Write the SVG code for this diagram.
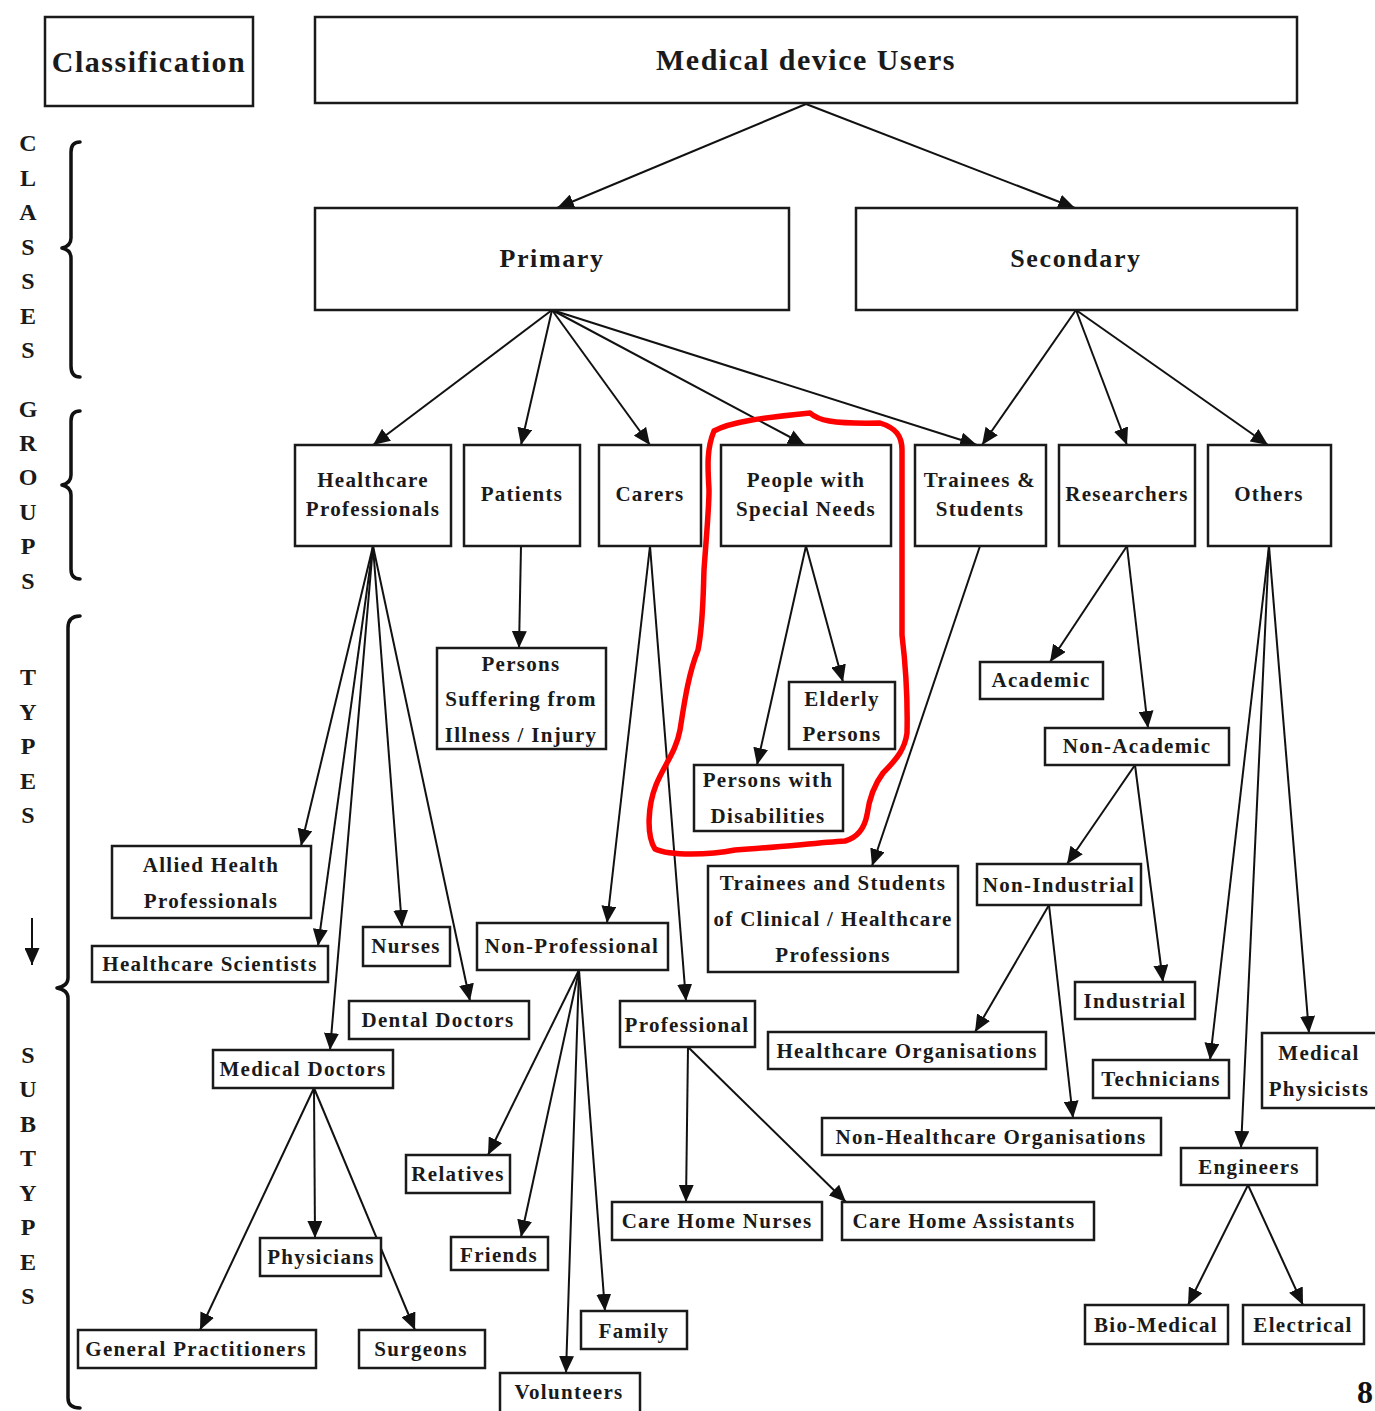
<svg xmlns="http://www.w3.org/2000/svg" width="1375" height="1411" viewBox="0 0 1375 1411">
  <style>
    .box { fill: #ffffff; stroke: #1a1a1a; stroke-width: 2.5; }
    .t { font-family: "Liberation Serif", "Times New Roman", serif; font-weight: bold; fill: #1a1a1a; text-anchor: middle; dominant-baseline: central; }
    .t1 { font-size: 30px; letter-spacing: 1.5px; }
    .t2 { font-size: 26px; letter-spacing: 1.6px; }
    .t3 { font-size: 21px; letter-spacing: 1.3px; }
    .side { font-family: "Liberation Serif", "Times New Roman", serif; font-weight: bold; font-size: 24px; fill: #1a1a1a; text-anchor: middle; dominant-baseline: central; }
    .edge { stroke: #111111; stroke-width: 2; fill: none; marker-end: url(#arrow); }
    .brace { stroke: #111111; stroke-width: 3.5; fill: none; stroke-linecap: round; stroke-linejoin: round; }
  </style>
  <defs>
    <marker id="arrow" markerUnits="userSpaceOnUse" markerWidth="17" markerHeight="15" refX="17" refY="7.5" orient="auto">
      <path d="M0,0 L17,7.5 L0,15 z" fill="#111111"/>
    </marker>
  </defs>
  <rect width="1375" height="1411" fill="#ffffff"/>

  <!-- side legend -->
  <g id="legend">
    <text class="side" x="28" y="143">C</text>
    <text class="side" x="28" y="178">L</text>
    <text class="side" x="28" y="212">A</text>
    <text class="side" x="28" y="247">S</text>
    <text class="side" x="28" y="281">S</text>
    <text class="side" x="28" y="316">E</text>
    <text class="side" x="28" y="350">S</text>
    <text class="side" x="28" y="409">G</text>
    <text class="side" x="28" y="443">R</text>
    <text class="side" x="28" y="477">O</text>
    <text class="side" x="28" y="512">U</text>
    <text class="side" x="28" y="546">P</text>
    <text class="side" x="28" y="581">S</text>
    <text class="side" x="28" y="677">T</text>
    <text class="side" x="28" y="712">Y</text>
    <text class="side" x="28" y="746">P</text>
    <text class="side" x="28" y="781">E</text>
    <text class="side" x="28" y="815">S</text>
    <text class="side" x="28" y="1055">S</text>
    <text class="side" x="28" y="1089">U</text>
    <text class="side" x="28" y="1124">B</text>
    <text class="side" x="28" y="1158">T</text>
    <text class="side" x="28" y="1193">Y</text>
    <text class="side" x="28" y="1227">P</text>
    <text class="side" x="28" y="1262">E</text>
    <text class="side" x="28" y="1296">S</text>
    <line x1="32" y1="918" x2="32" y2="965" stroke="#111111" stroke-width="2" marker-end="url(#arrow)"/>
    <path class="brace" d="M80,142 Q71,142 71,152 L71,238 Q71,246 62,248 Q71,250 71,258 L71,366 Q71,377 80,377"/>
    <path class="brace" d="M80,411 Q71,411 71,421 L71,475 Q71,483 62,485 Q71,487 71,495 L71,569 Q71,579 80,579"/>
    <path class="brace" d="M80,616 Q68,616 68,628 L68,978 Q68,986 57,988 Q68,990 68,998 L68,1398 Q68,1408 80,1408"/>
  </g>

  <!-- connectors -->
  <g id="connectors">
    <line class="edge" x1="806" y1="104" x2="557" y2="208"/>
    <line class="edge" x1="806" y1="104" x2="1075" y2="208"/>
    <line class="edge" x1="552" y1="310" x2="373" y2="445"/>
    <line class="edge" x1="552" y1="310" x2="521" y2="445"/>
    <line class="edge" x1="552" y1="310" x2="650" y2="445"/>
    <line class="edge" x1="552" y1="310" x2="805" y2="445"/>
    <line class="edge" x1="552" y1="310" x2="977" y2="445"/>
    <line class="edge" x1="1076" y1="310" x2="982" y2="445"/>
    <line class="edge" x1="1076" y1="310" x2="1127" y2="445" stroke-width="2.8"/>
    <line class="edge" x1="1076" y1="310" x2="1268" y2="445"/>
    <line class="edge" x1="373" y1="546" x2="301" y2="846"/>
    <line class="edge" x1="373" y1="546" x2="318" y2="946"/>
    <line class="edge" x1="373" y1="546" x2="330" y2="1050"/>
    <line class="edge" x1="373" y1="546" x2="402" y2="927"/>
    <line class="edge" x1="373" y1="546" x2="470" y2="1001"/>
    <line class="edge" x1="521" y1="546" x2="519" y2="648"/>
    <line class="edge" x1="650" y1="546" x2="607" y2="923"/>
    <line class="edge" x1="650" y1="546" x2="686" y2="1001"/>
    <line class="edge" x1="806" y1="546" x2="757" y2="765"/>
    <line class="edge" x1="806" y1="546" x2="843" y2="682"/>
    <line class="edge" x1="980" y1="546" x2="872" y2="866"/>
    <line class="edge" x1="1127" y1="546" x2="1050" y2="662"/>
    <line class="edge" x1="1127" y1="546" x2="1148" y2="728"/>
    <line class="edge" x1="1135" y1="765" x2="1067" y2="864"/>
    <line class="edge" x1="1135" y1="765" x2="1163" y2="982"/>
    <line class="edge" x1="1049" y1="905" x2="975" y2="1032"/>
    <line class="edge" x1="1049" y1="905" x2="1073" y2="1118"/>
    <line class="edge" x1="1269" y1="546" x2="1210" y2="1060"/>
    <line class="edge" x1="1269" y1="546" x2="1241" y2="1148"/>
    <line class="edge" x1="1269" y1="546" x2="1309" y2="1033"/>
    <line class="edge" x1="314" y1="1088" x2="200" y2="1330"/>
    <line class="edge" x1="314" y1="1088" x2="315" y2="1238"/>
    <line class="edge" x1="314" y1="1088" x2="415" y2="1330"/>
    <line class="edge" x1="579" y1="970" x2="488" y2="1155"/>
    <line class="edge" x1="579" y1="970" x2="521" y2="1237"/>
    <line class="edge" x1="579" y1="970" x2="566" y2="1373"/>
    <line class="edge" x1="579" y1="970" x2="605" y2="1311"/>
    <line class="edge" x1="688" y1="1047" x2="686" y2="1202"/>
    <line class="edge" x1="688" y1="1047" x2="846" y2="1202"/>
    <line class="edge" x1="1248" y1="1185" x2="1188" y2="1305"/>
    <line class="edge" x1="1248" y1="1185" x2="1303" y2="1305"/>
  </g>

  <!-- top level -->
  <g id="classification"><rect class="box" x="45" y="17" width="208" height="89"/><text class="t t1" x="149" y="61">Classification</text></g>
  <g id="users"><rect class="box" x="315" y="17" width="982" height="86"/><text class="t t1" x="806" y="59">Medical device Users</text></g>

  <!-- classes -->
  <g id="primary"><rect class="box" x="315" y="208" width="474" height="102"/><text class="t t2" x="552" y="258">Primary</text></g>
  <g id="secondary"><rect class="box" x="856" y="208" width="441" height="102"/><text class="t t2" x="1076" y="258">Secondary</text></g>

  <!-- groups -->
  <g id="healthcare-professionals"><rect class="box" x="295" y="445" width="156" height="101"/><text class="t t3" x="373" y="480">Healthcare</text><text class="t t3" x="373" y="509">Professionals</text></g>
  <g id="patients"><rect class="box" x="464" y="445" width="116" height="101"/><text class="t t3" x="522" y="494">Patients</text></g>
  <g id="carers"><rect class="box" x="599" y="445" width="102" height="101"/><text class="t t3" x="650" y="494">Carers</text></g>
  <g id="special-needs"><rect class="box" x="721" y="445" width="170" height="101"/><text class="t t3" x="806" y="480">People with</text><text class="t t3" x="806" y="509">Special Needs</text></g>
  <g id="trainees"><rect class="box" x="915" y="445" width="131" height="101"/><text class="t t3" x="980" y="480">Trainees &amp;</text><text class="t t3" x="980" y="509">Students</text></g>
  <g id="researchers"><rect class="box" x="1059" y="445" width="136" height="101"/><text class="t t3" x="1127" y="494">Researchers</text></g>
  <g id="others"><rect class="box" x="1208" y="445" width="123" height="101"/><text class="t t3" x="1269" y="494">Others</text></g>

  <!-- types and subtypes -->
  <g id="suffering"><rect class="box" x="437" y="648" width="169" height="101"/><text class="t t3" x="521" y="664">Persons</text><text class="t t3" x="521" y="699">Suffering from</text><text class="t t3" x="521" y="735">Illness / Injury</text></g>
  <g id="elderly"><rect class="box" x="789" y="682" width="106" height="67"/><text class="t t3" x="842" y="699">Elderly</text><text class="t t3" x="842" y="734">Persons</text></g>
  <g id="disabilities"><rect class="box" x="694" y="765" width="149" height="66"/><text class="t t3" x="768" y="780">Persons with</text><text class="t t3" x="768" y="816">Disabilities</text></g>
  <g id="academic"><rect class="box" x="980" y="662" width="123" height="37"/><text class="t t3" x="1041" y="680">Academic</text></g>
  <g id="non-academic"><rect class="box" x="1045" y="728" width="184" height="37"/><text class="t t3" x="1137" y="746">Non-Academic</text></g>
  <g id="clinical-trainees"><rect class="box" x="708" y="866" width="250" height="106"/><text class="t t3" x="833" y="883">Trainees and Students</text><text class="t t3" x="833" y="919">of Clinical / Healthcare</text><text class="t t3" x="833" y="955">Professions</text></g>
  <g id="non-industrial"><rect class="box" x="977" y="864" width="164" height="41"/><text class="t t3" x="1059" y="885">Non-Industrial</text></g>
  <g id="allied"><rect class="box" x="112" y="846" width="199" height="72"/><text class="t t3" x="211" y="865">Allied Health</text><text class="t t3" x="211" y="901">Professionals</text></g>
  <g id="healthcare-scientists"><rect class="box" x="92" y="946" width="236" height="36"/><text class="t t3" x="210" y="964">Healthcare Scientists</text></g>
  <g id="nurses"><rect class="box" x="363" y="927" width="87" height="39"/><text class="t t3" x="406" y="946">Nurses</text></g>
  <g id="non-professional"><rect class="box" x="477" y="923" width="191" height="47"/><text class="t t3" x="572" y="946">Non-Professional</text></g>
  <g id="dental"><rect class="box" x="349" y="1001" width="180" height="38"/><text class="t t3" x="438" y="1020">Dental Doctors</text></g>
  <g id="professional"><rect class="box" x="620" y="1001" width="135" height="46"/><text class="t t3" x="687" y="1025">Professional</text></g>
  <g id="industrial"><rect class="box" x="1075" y="982" width="120" height="37"/><text class="t t3" x="1135" y="1001">Industrial</text></g>
  <g id="medical-doctors"><rect class="box" x="213" y="1050" width="180" height="38"/><text class="t t3" x="303" y="1069">Medical Doctors</text></g>
  <g id="healthcare-organisations"><rect class="box" x="768" y="1032" width="278" height="37"/><text class="t t3" x="907" y="1051">Healthcare Organisations</text></g>
  <g id="technicians"><rect class="box" x="1093" y="1060" width="136" height="38"/><text class="t t3" x="1161" y="1079">Technicians</text></g>
  <g id="medical-physicists"><rect class="box" x="1262" y="1033" width="120" height="75"/><text class="t t3" x="1319" y="1053">Medical</text><text class="t t3" x="1319" y="1089">Physicists</text></g>
  <g id="non-healthcare-organisations"><rect class="box" x="822" y="1118" width="339" height="37"/><text class="t t3" x="991" y="1137">Non-Healthcare Organisations</text></g>
  <g id="engineers"><rect class="box" x="1181" y="1148" width="136" height="37"/><text class="t t3" x="1249" y="1167">Engineers</text></g>
  <g id="relatives"><rect class="box" x="406" y="1155" width="104" height="38"/><text class="t t3" x="458" y="1174">Relatives</text></g>
  <g id="care-home-nurses"><rect class="box" x="612" y="1202" width="210" height="38"/><text class="t t3" x="717" y="1221">Care Home Nurses</text></g>
  <g id="care-home-assistants"><rect class="box" x="842" y="1202" width="252" height="38"/><text class="t t3" x="964" y="1221">Care Home Assistants</text></g>
  <g id="physicians"><rect class="box" x="260" y="1238" width="121" height="38"/><text class="t t3" x="321" y="1257">Physicians</text></g>
  <g id="friends"><rect class="box" x="451" y="1237" width="97" height="33"/><text class="t t3" x="499" y="1255">Friends</text></g>
  <g id="family"><rect class="box" x="581" y="1311" width="106" height="38"/><text class="t t3" x="634" y="1331">Family</text></g>
  <g id="general-practitioners"><rect class="box" x="78" y="1330" width="238" height="38"/><text class="t t3" x="196" y="1349">General Practitioners</text></g>
  <g id="surgeons"><rect class="box" x="359" y="1330" width="126" height="38"/><text class="t t3" x="421" y="1349">Surgeons</text></g>
  <g id="volunteers"><rect class="box" x="500" y="1373" width="140" height="42"/><text class="t t3" x="569" y="1392">Volunteers</text></g>
  <g id="bio-medical"><rect class="box" x="1085" y="1305" width="143" height="39"/><text class="t t3" x="1156" y="1325">Bio-Medical</text></g>
  <g id="electrical"><rect class="box" x="1243" y="1305" width="121" height="39"/><text class="t t3" x="1303" y="1325">Electrical</text></g>

  <!-- hand-drawn highlight loop -->
  <path d="M714,431 C730,422 760,418 810,413 C818,420 830,424 880,423 C896,428 902,436 902,450 L902,635 C905,660 908,690 907,733 C905,748 898,758 883,773 C874,785 869,800 867,815 C864,830 856,838 845,841 C815,843 780,847 735,850 C710,855 670,856 655,849 C646,835 648,805 656,785 C664,765 676,752 680,730 C684,705 688,675 698,650 C703,625 703,600 704,570 C706,540 709,510 709,490 C708,470 706,450 714,431 Z" fill="none" stroke="#ff0000" stroke-width="5.5" stroke-linejoin="round"/>

  <text x="1365" y="1392" font-family="Liberation Serif, Times New Roman, serif" font-weight="bold" font-size="32" text-anchor="middle" dominant-baseline="central" fill="#111111">8</text>
</svg>
